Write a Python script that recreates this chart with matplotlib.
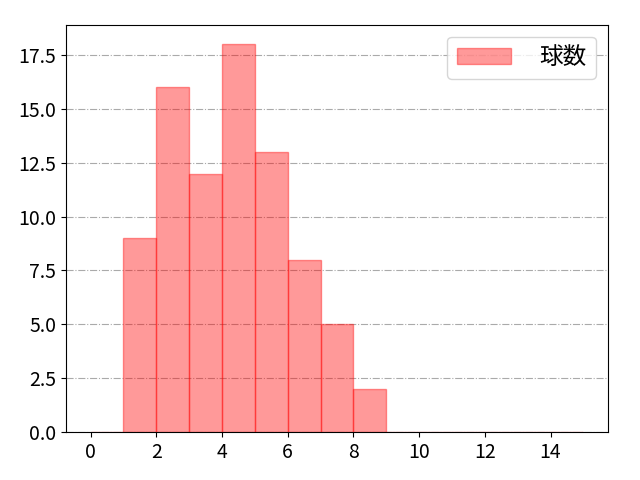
import matplotlib
matplotlib.use("Agg")
import matplotlib.pyplot as plt

plt.rcParams['font.family'] = ['Noto Sans CJK JP', 'DejaVu Sans']

# 球数ごとの度数（ビン幅1、0〜15）
bin_edges = list(range(16))
counts = [0, 9, 16, 12, 18, 13, 8, 5, 2, 0, 0, 0, 0, 0, 0]
label = '球数'

fig, ax = plt.subplots(figsize=(6.4, 4.8), dpi=100)
ax.hist(bin_edges[:-1], bins=bin_edges, weights=counts,
        color='red', alpha=0.4, edgecolor='red', linewidth=1, label=label)

ax.grid(axis='y', color='#aaaaaa', linestyle='-.', linewidth=0.8)
ax.set_axisbelow(True)
ax.set_xticks(range(0, 15, 2))
ax.tick_params(labelsize=14)
ax.legend(loc='upper right', fontsize=17, handlelength=2.3, handletextpad=1.2)

plt.subplots_adjust(left=0.103, right=0.95, top=0.948, bottom=0.1)
plt.savefig('out.png', dpi=100)
